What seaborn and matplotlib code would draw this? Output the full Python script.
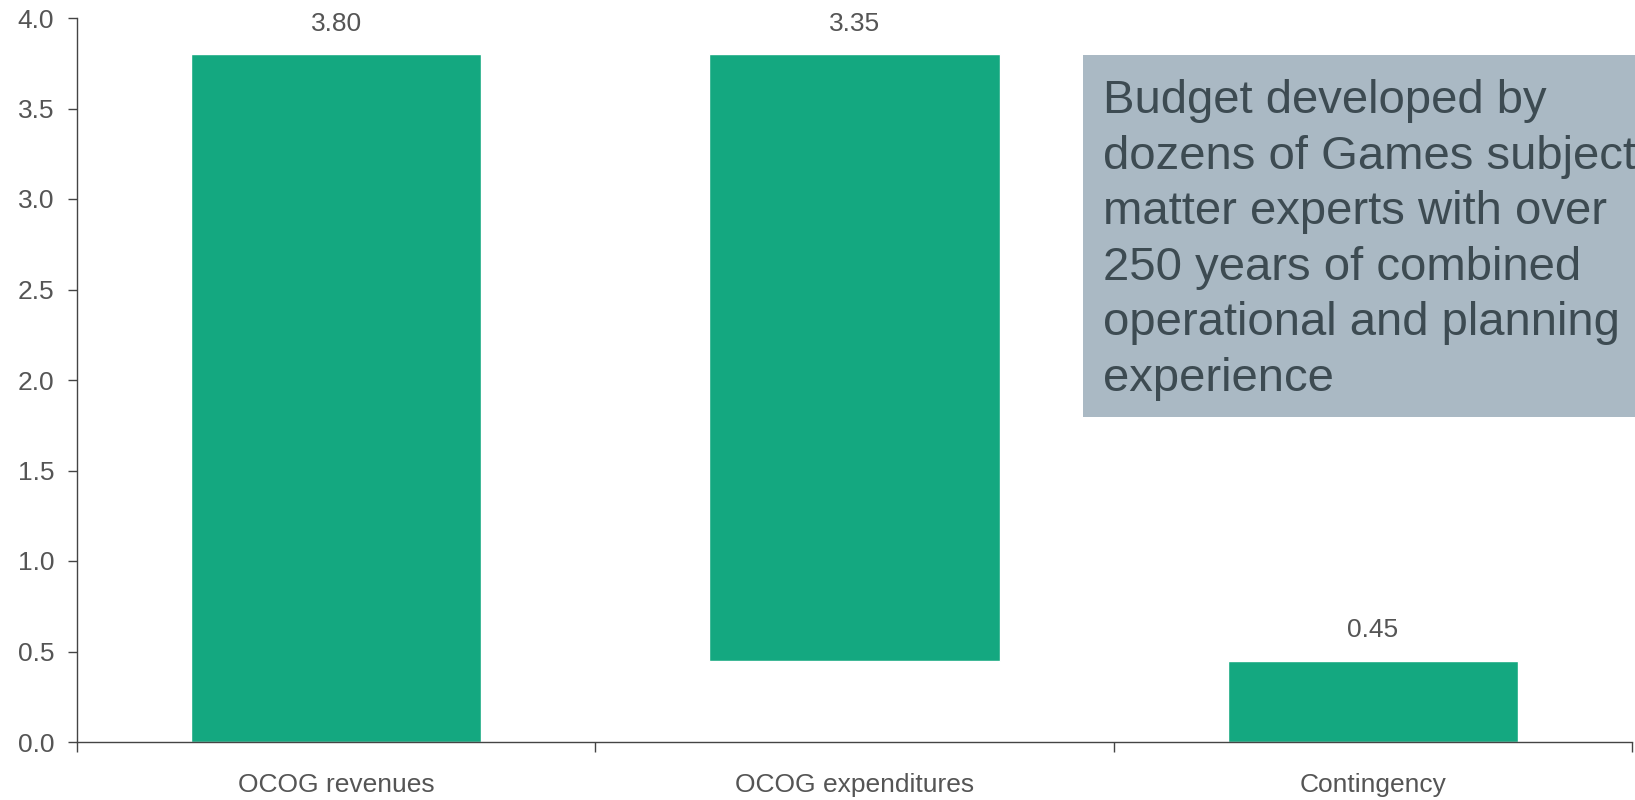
import matplotlib
matplotlib.use('Agg')
import matplotlib.pyplot as plt
import matplotlib.patches as mpatches
import seaborn as sns
import numpy as np
import pandas as pd

# chart data
categories = ['OCOG revenues', 'OCOG expenditures', 'Contingency']
values = [3.80, 3.35, 0.45]
bases = [0.0, 0.45, 0.0]
y_ticks = [0.0, 0.5, 1.0, 1.5, 2.0, 2.5, 3.0, 3.5, 4.0]
note = ("Budget developed by\ndozens of Games subject\nmatter experts with over\n"
        "250 years of combined\noperational and planning\nexperience")

sns.set_style('white')
plt.rcParams['font.family'] = ['Liberation Sans', 'DejaVu Sans']

df = pd.DataFrame({'category': categories, 'value': values, 'base': bases})

W, H = 1635, 800
fig = plt.figure(figsize=(W / 100, H / 100), dpi=100)
ax = fig.add_axes([77 / W, (H - 742) / H, (1632 - 77) / W, (742 - 18) / H])

sns.barplot(data=df, x='category', y='value', bottom=df['base'].values,
            color='#14a880', saturation=1, width=0.56, ax=ax)

# value labels above each bar
for i, row in df.iterrows():
    ax.annotate(f"{row['value']:.2f}", (i, row['base'] + row['value']),
                xytext=(0, 22), textcoords='offset points',
                ha='center', va='center', fontsize=19, color='#555555')

ax.set_xlim(-0.5, 2.5)
ax.set_ylim(0, 4.0)
ax.set_yticks(y_ticks)
ax.set_yticklabels([f'{t:.1f}' for t in y_ticks], fontsize=19, color='#555555')

# ticks between categories, labels centred
ax.set_xticks([-0.5, 0.5, 1.5, 2.5])
ax.set_xticklabels([])
ax.set_xticks(range(len(categories)), minor=True)
ax.set_xticklabels(categories, minor=True, fontsize=19, color='#555555')
ax.tick_params(axis='x', which='minor', bottom=True, length=0, pad=22)
ax.tick_params(axis='x', which='major', bottom=True, length=7, width=1,
               color='#444444', direction='out')
ax.tick_params(axis='y', left=True, length=6.5, width=1, color='#444444',
               direction='out', pad=10)
ax.set_xlabel('')
ax.set_ylabel('')

for s in ['top', 'right']:
    ax.spines[s].set_visible(False)
for s in ['left', 'bottom']:
    ax.spines[s].set_color('#444444')
    ax.spines[s].set_linewidth(1)

# note box on the right, runs off the edge (as in the original slide)
box = mpatches.Rectangle((1083 / W, (H - 417) / H), 0.5, 362 / H,
                         transform=fig.transFigure, facecolor='#aab9c4',
                         edgecolor='none', zorder=3)
fig.patches.append(box)
fig.text(1103 / W, (H - 79) / H, note, fontsize=34, color='#3d4b52',
         ha='left', va='top', linespacing=1.34, zorder=4)

fig.savefig('out.png', dpi=100)
